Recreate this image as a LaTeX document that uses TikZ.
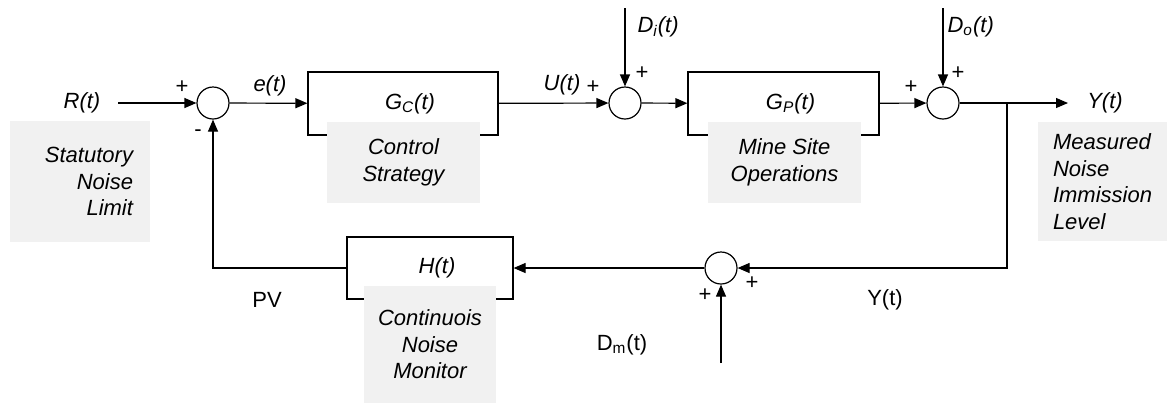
\documentclass[tikz,border=0pt]{standalone}
\usepackage{fontspec}
\setmainfont{Liberation Sans}
\usetikzlibrary{arrows.meta}
\begin{document}
\begin{tikzpicture}[x=0.5pt,y=-0.5pt,line width=0.6pt,
  every node/.style={font=\fontsize{11}{13.25}\selectfont},
  sum/.style={circle,draw,minimum size=16pt,inner sep=0pt},
  block/.style={draw,inner sep=0pt},
  note/.style={fill=black!5.5,inner sep=0pt,align=center,font=\fontsize{11}{13.25}\selectfont\itshape},
  sig/.style={-{Triangle[length=6pt,width=5pt]}},
  lbl/.style={inner sep=0pt}]
\useasboundingbox (0,0) rectangle (1167,404);

% summing junctions
\node[sum] (s1) at (213,103) {};
\node[sum] (s2) at (625,103) {};
\node[sum] (s3) at (943,103) {};
\node[sum] (s4) at (721,268) {};

% transfer blocks
\node[block,minimum width=95pt,minimum height=31.5pt] (gc) at (403,103.5) {\hspace*{7pt}\textit{G\textsubscript{C}(t)}};
\node[block,minimum width=95.5pt,minimum height=31.5pt] (gp) at (783.5,103.5) {\hspace*{7pt}\textit{G\textsubscript{P}(t)}};
\node[block,minimum width=83pt,minimum height=31pt] (h) at (430,268) {\hspace*{7pt}\textit{H(t)}};

% descriptive notes
\node[note,minimum width=70pt,minimum height=60.5pt,text width=53pt,align=right] (nlim) at (80,181.5) {Statutory\\Noise\\Limit};
\node[note,minimum width=76.5pt,minimum height=40.5pt] (ncs) at (403.5,162.5) {Control\\Strategy};
\node[note,minimum width=76.5pt,minimum height=40.5pt] (nms) at (784.5,162.5) {Mine Site\\Operations};
\node[note,minimum width=64.5pt,minimum height=59.5pt,align=left] (nmeas) at (1102.5,181.5) {Measured\\Noise\\Immission\\Level};
\node[note,minimum width=66pt,minimum height=58.5pt] (nmon) at (430,344.5) {Continuois\\Noise\\Monitor};

% free ends and corners
\coordinate (rin) at (118,103);
\coordinate (yout) at (1068,103);
\coordinate (br) at (1007,103);
\coordinate (brd) at (1007,268);
\coordinate (fb) at (213,268);
\coordinate (di) at (625,8);
\coordinate (do) at (943,8);
\coordinate (dm) at (721,363);

% signal paths
\draw[sig] (rin) -- (s1);
\draw[sig] (s1) -- (gc);
\draw[sig] (gc) -- (s2);
\draw[sig] (di) -- (s2);
\draw[sig] (s2) -- (gp);
\draw[sig] (gp) -- (s3);
\draw[sig] (do) -- (s3);
\draw[sig] (s3) -- (yout);
\draw[sig] (br) -- (brd) -- (s4);
\draw[sig] (s4) -- (h);
\draw[sig] (h) -- (fb) -- (s1);
\draw[sig] (dm) -- (s4);

% signal labels
\node[lbl] (rt) at (82,103) {\textit{R(t)}};
\node[lbl] (et) at (270,86) {\textit{e(t)}};
\node[lbl] (ut) at (562,85) {\textit{U(t)}};
\node[lbl,anchor=west] (dit) at (637,27) {\textit{D\textsubscript{i}(t)}};
\node[lbl,anchor=west] (dot) at (947,27) {\textit{D\textsubscript{o}(t)}};
\node[lbl] (yt) at (1105,103) {\textit{Y(t)}};
\node[lbl] (pv) at (267,300) {PV};
\node[lbl] (yfb) at (885,300) {Y(t)};
\node[lbl] (dmt) at (622,345) {D\textsubscript{m}(t)};

% signs at the junctions
\node[lbl] (p1) at (182,87) {+};
\node[lbl] (m1) at (198,133) {-};
\node[lbl] (p2) at (593,87) {+};
\node[lbl] (p3) at (642,73) {+};
\node[lbl] (p4) at (911,87) {+};
\node[lbl] (p5) at (958,73) {+};
\node[lbl] (p6) at (752,283) {+};
\node[lbl] (p7) at (705,295) {+};
\end{tikzpicture}
\end{document}
